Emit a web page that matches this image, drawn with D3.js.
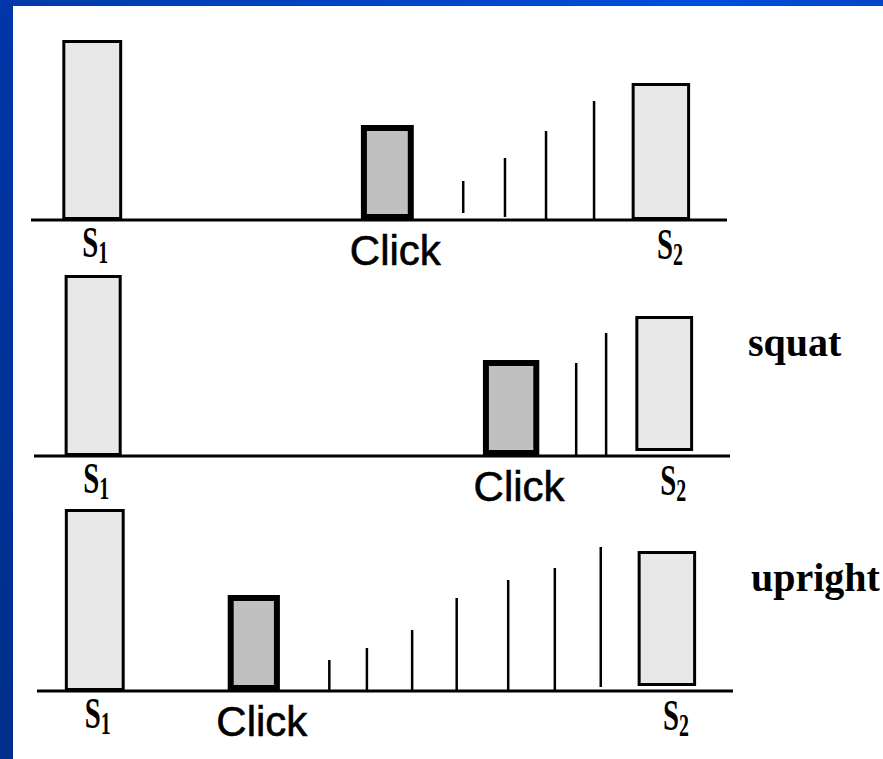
<!DOCTYPE html>
<html>
<head>
<meta charset="utf-8">
<script src="https://cdn.jsdelivr.net/npm/d3@7"></script>
<style>
  body { margin: 0; background: #fff; overflow: hidden; }
  svg { display: block; }
</style>
</head>
<body>
<div id="chart"></div>
<script>
// Click position vs. S1 / S2 pulses, three listening conditions

var conditions = ["", "squat", "upright"];

// bar extents on the time axis (ms) and heights (amplitude units)
var s1Bars = [[45, 131], [44, 126], [40, 126]];
var s1Heights = [90, 90.5, 91];
var clickBars = [[474, 550], [645, 726], [274, 349]];
var clickHeights = [47.5, 48, 48];
var s2Bars = [[863, 947], [864, 947], [863, 947]];
var s2Heights = [68.5, 70, 70];
var s2Lift = [0, 2.5, 2.5];

// vertical marks after the click
var markTimes = [
    [621, 681, 740, 809],
    [779, 822],
    [420, 474, 539, 603, 677, 744, 810]
];
var markHeights = [
    [19.5, 31, 44.5, 59.5],
    [46.5, 61.5],
    [15.5, 21.5, 30.5, 46.5, 55.5, 61.5, 72]
];
var markLift = [
    [3.5, 1.5, 0, 0],
    [0, 0],
    [0, 0, 0, 0, 0, 0, 2]
];

var width = 883,
    height = 759;

var baselines = [220, 456, 691];
var shiftX = [0, 3, 6];

var xScale = d3.scaleLinear().domain([0, 1000]).range([31, 727]);
var yScale = d3.scaleLinear().domain([0, 100]).range([0, 200]);

var svg = d3.select("#chart").append("svg")
    .attr("width", width)
    .attr("height", height);

var defs = svg.append("defs");
var gTop = defs.append("linearGradient").attr("id", "topBand")
    .attr("x1", 0).attr("x2", 1).attr("y1", 0).attr("y2", 0);
gTop.append("stop").attr("offset", 0).attr("stop-color", "#003aa8");
gTop.append("stop").attr("offset", 0.8).attr("stop-color", "#004ede");
gTop.append("stop").attr("offset", 1).attr("stop-color", "#0046c8");
var gLeft = defs.append("linearGradient").attr("id", "leftBand")
    .attr("x1", 0).attr("x2", 0).attr("y1", 0).attr("y2", 1);
gLeft.append("stop").attr("offset", 0).attr("stop-color", "#0036a8");
gLeft.append("stop").attr("offset", 1).attr("stop-color", "#002e88");

svg.append("rect").attr("width", width).attr("height", height).attr("fill", "#fff");
svg.append("rect").attr("x", 0).attr("y", 0).attr("width", width).attr("height", 6)
    .attr("fill", "url(#topBand)");
svg.append("rect").attr("x", 0).attr("y", 0).attr("width", 13).attr("height", height)
    .attr("fill", "url(#leftBand)");

function drawBar(g, base, ext, h, lift, sw, fill) {
    var x0 = xScale(ext[0]), x1 = xScale(ext[1]);
    var top = base - yScale(h);
    var bottom = base - yScale(lift);
    g.append("rect")
        .attr("x", x0 + sw / 2)
        .attr("y", top + sw / 2)
        .attr("width", x1 - x0 - sw)
        .attr("height", bottom - top - sw)
        .attr("fill", fill)
        .attr("stroke", "#000")
        .attr("stroke-width", sw);
}

function sLabel(g, cx, y, sub) {
    var t = g.append("text")
        .attr("transform", "translate(" + cx + "," + y + ") scale(0.64,1)")
        .attr("text-anchor", "middle")
        .attr("font-family", "'Liberation Serif', serif")
        .attr("font-weight", "bold")
        .attr("font-size", 45)
        .attr("fill", "#000");
    t.append("tspan").text("S");
    t.append("tspan").attr("dy", 6).attr("font-size", 31).text(sub);
}

conditions.forEach(function(cond, i) {
    var base = baselines[i];
    var g = svg.append("g").attr("transform", "translate(" + shiftX[i] + ",0)");

    // baseline
    g.append("line")
        .attr("x1", xScale(0)).attr("x2", xScale(1000))
        .attr("y1", base).attr("y2", base)
        .attr("stroke", "#000").attr("stroke-width", 3);

    drawBar(g, base, s1Bars[i], s1Heights[i], 0, 3, "#e8e8e8");
    drawBar(g, base, s2Bars[i], s2Heights[i], s2Lift[i], 3, "#e8e8e8");
    drawBar(g, base, clickBars[i], clickHeights[i], 0, 6, "#c0c0c0");

    g.selectAll(".mark")
        .data(markTimes[i].map(function(t, j) {
            return { t: t, h: markHeights[i][j], lift: markLift[i][j] };
        }))
        .enter().append("line")
        .attr("class", "mark")
        .attr("x1", function(d) { return xScale(d.t); })
        .attr("x2", function(d) { return xScale(d.t); })
        .attr("y1", function(d) { return base - yScale(d.lift); })
        .attr("y2", function(d) { return base - yScale(d.h); })
        .attr("stroke", "#000")
        .attr("stroke-width", 2.5);

    // labels under the bars
    var s1c = xScale((s1Bars[i][0] + s1Bars[i][1]) / 2);
    var s2c = xScale((s2Bars[i][0] + s2Bars[i][1]) / 2);
    var cc = xScale((clickBars[i][0] + clickBars[i][1]) / 2);
    sLabel(g, s1c + 3, base + 37, "1");
    sLabel(g, s2c + 9, base + 39, "2");

    g.append("text")
        .attr("x", cc + 8)
        .attr("y", base + 45)
        .attr("text-anchor", "middle")
        .attr("font-family", "'Liberation Sans', Arial, sans-serif")
        .attr("font-size", 42)
        .attr("fill", "#000")
        .attr("stroke", "#000")
        .attr("stroke-width", 0.6)
        .text("Click");

    if (cond) {
        g.append("text")
            .attr("x", 745)
            .attr("y", base - 100)
            .attr("font-family", "'Liberation Serif', serif")
            .attr("font-weight", "bold")
            .attr("font-size", 40)
            .attr("fill", "#000")
            .text(cond);
    }
});
</script>
</body>
</html>
